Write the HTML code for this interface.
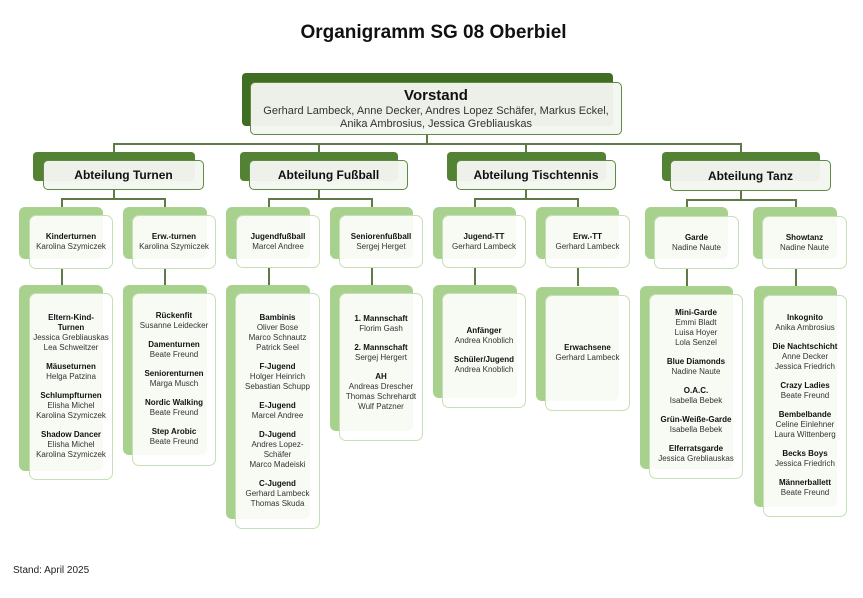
<!DOCTYPE html>
<html><head><meta charset="utf-8"><style>
*{margin:0;padding:0;box-sizing:border-box}
body{width:863px;height:598px;background:#fff;position:relative;overflow:hidden;font-family:"Liberation Sans",sans-serif;color:#222}
.a{position:absolute}
.bd{background:#3f6d22;border-radius:4px}
.bm{background:#548235;border-radius:4px}
.bl{background:#a9d18e;border-radius:6px}
.fd{background:rgba(244,246,241,0.96);border:1.5px solid #5f8a42;border-radius:5px;display:flex;flex-direction:column;justify-content:center;align-items:center;text-align:center}
.fl{background:rgba(255,255,255,0.9);border:1.5px solid #c5e0b4;border-radius:7px;display:flex;flex-direction:column;justify-content:center;align-items:center;text-align:center;font-size:8px;line-height:10px;white-space:nowrap;color:#333}
.fl b{color:#111}
.it{margin:4px 0 5px}
.h{background:#5f7a48;height:1.5px}
.v{background:#5f7a48;width:1.5px}
</style></head><body>
<div class="a" style="left:0;top:22px;width:863px;text-align:center;font-weight:bold;font-size:19px;color:#111;padding-left:4px">Organigramm SG 08 Oberbiel</div>

<!-- connectors -->
<div class="a v" style="left:426px;top:135px;height:9px"></div>
<div class="a h" style="left:113px;top:143px;width:629px"></div>
<div class="a v" style="left:113px;top:143px;height:9px"></div>
<div class="a v" style="left:318px;top:143px;height:9px"></div>
<div class="a v" style="left:525px;top:143px;height:9px"></div>
<div class="a v" style="left:740px;top:143px;height:9px"></div>

<div class="a v" style="left:113px;top:189px;height:10px"></div>
<div class="a h" style="left:61px;top:198px;width:104px"></div>
<div class="a v" style="left:61px;top:198px;height:10px"></div>
<div class="a v" style="left:164px;top:198px;height:10px"></div>
<div class="a v" style="left:318px;top:189px;height:10px"></div>
<div class="a h" style="left:268px;top:198px;width:104px"></div>
<div class="a v" style="left:268px;top:198px;height:10px"></div>
<div class="a v" style="left:371px;top:198px;height:10px"></div>
<div class="a v" style="left:525px;top:189px;height:10px"></div>
<div class="a h" style="left:474px;top:198px;width:104px"></div>
<div class="a v" style="left:474px;top:198px;height:10px"></div>
<div class="a v" style="left:577px;top:198px;height:10px"></div>
<div class="a v" style="left:740px;top:191px;height:9px"></div>
<div class="a h" style="left:686px;top:199px;width:110px"></div>
<div class="a v" style="left:686px;top:199px;height:9px"></div>
<div class="a v" style="left:795px;top:199px;height:9px"></div>

<div class="a v" style="left:61px;top:268px;height:18px"></div>
<div class="a v" style="left:164px;top:268px;height:18px"></div>
<div class="a v" style="left:268px;top:268px;height:18px"></div>
<div class="a v" style="left:371px;top:268px;height:18px"></div>
<div class="a v" style="left:474px;top:268px;height:18px"></div>
<div class="a v" style="left:577px;top:268px;height:18px"></div>
<div class="a v" style="left:686px;top:268px;height:18px"></div>
<div class="a v" style="left:795px;top:268px;height:18px"></div>

<!-- Vorstand -->
<div class="a bd" style="left:242px;top:73px;width:371px;height:53px"></div>
<div class="a fd" style="left:250px;top:82px;width:372px;height:53px">
<div style="font-weight:bold;font-size:15px;color:#111;line-height:18px">Vorstand</div>
<div style="font-size:11px;line-height:13px;color:#333">Gerhard Lambeck, Anne Decker, Andres Lopez Schäfer, Markus Eckel,<br>Anika Ambrosius, Jessica Grebliauskas</div></div>

<!-- Abteilungen -->
<div class="a bm" style="left:33px;top:152px;width:162px;height:29px"></div>
<div class="a fd" style="left:43px;top:160px;width:161px;height:30px;font-weight:bold;font-size:12px;color:#111">Abteilung Turnen</div>
<div class="a bm" style="left:240px;top:152px;width:158px;height:29px"></div>
<div class="a fd" style="left:249px;top:160px;width:159px;height:30px;font-weight:bold;font-size:12px;color:#111">Abteilung Fußball</div>
<div class="a bm" style="left:447px;top:152px;width:159px;height:29px"></div>
<div class="a fd" style="left:456px;top:160px;width:160px;height:30px;font-weight:bold;font-size:12px;color:#111">Abteilung Tischtennis</div>
<div class="a bm" style="left:662px;top:152px;width:158px;height:29px"></div>
<div class="a fd" style="left:670px;top:160px;width:161px;height:31px;font-weight:bold;font-size:12px;color:#111">Abteilung Tanz</div>

<!-- level 2 -->
<div class="a bl" style="left:19px;top:207px;width:84px;height:52px"></div>
<div class="a fl" style="left:29px;top:215px;width:84px;height:54px"><b>Kinderturnen</b>Karolina Szymiczek</div>
<div class="a bl" style="left:123px;top:207px;width:84px;height:52px"></div>
<div class="a fl" style="left:132px;top:215px;width:84px;height:54px"><b>Erw.-turnen</b>Karolina Szymiczek</div>
<div class="a bl" style="left:226px;top:207px;width:84px;height:52px"></div>
<div class="a fl" style="left:236px;top:215px;width:84px;height:53px"><b>Jugendfußball</b>Marcel Andree</div>
<div class="a bl" style="left:330px;top:207px;width:83px;height:52px"></div>
<div class="a fl" style="left:339px;top:215px;width:84px;height:53px"><b>Seniorenfußball</b>Sergej Herget</div>
<div class="a bl" style="left:433px;top:207px;width:83px;height:52px"></div>
<div class="a fl" style="left:442px;top:215px;width:84px;height:53px"><b>Jugend-TT</b>Gerhard Lambeck</div>
<div class="a bl" style="left:536px;top:207px;width:83px;height:52px"></div>
<div class="a fl" style="left:545px;top:215px;width:85px;height:53px"><b>Erw.-TT</b>Gerhard Lambeck</div>
<div class="a bl" style="left:645px;top:207px;width:83px;height:52px"></div>
<div class="a fl" style="left:654px;top:216px;width:85px;height:53px"><b>Garde</b>Nadine Naute</div>
<div class="a bl" style="left:753px;top:207px;width:84px;height:52px"></div>
<div class="a fl" style="left:762px;top:216px;width:85px;height:53px"><b>Showtanz</b>Nadine Naute</div>

<!-- level 3 -->
<div class="a bl" style="left:19px;top:285px;width:84px;height:186px"></div>
<div class="a fl" style="left:29px;top:293px;width:84px;height:187px">
<div class="it"><b>Eltern-Kind-<br>Turnen</b><br>Jessica Grebliauskas<br>Lea Schweitzer</div>
<div class="it"><b>Mäuseturnen</b><br>Helga Patzina</div>
<div class="it"><b>Schlumpfturnen</b><br>Elisha Michel<br>Karolina Szymiczek</div>
<div class="it"><b>Shadow Dancer</b><br>Elisha Michel<br>Karolina Szymiczek</div></div>

<div class="a bl" style="left:123px;top:285px;width:84px;height:170px"></div>
<div class="a fl" style="left:132px;top:293px;width:84px;height:173px">
<div class="it"><b>Rückenfit</b><br>Susanne Leidecker</div>
<div class="it"><b>Damenturnen</b><br>Beate Freund</div>
<div class="it"><b>Seniorenturnen</b><br>Marga Musch</div>
<div class="it"><b>Nordic Walking</b><br>Beate Freund</div>
<div class="it"><b>Step Arobic</b><br>Beate Freund</div></div>

<div class="a bl" style="left:226px;top:285px;width:84px;height:234px"></div>
<div class="a fl" style="left:235px;top:293px;width:85px;height:236px">
<div class="it"><b>Bambinis</b><br>Oliver Bose<br>Marco Schnautz<br>Patrick Seel</div>
<div class="it"><b>F-Jugend</b><br>Holger Heinrich<br>Sebastian Schupp</div>
<div class="it"><b>E-Jugend</b><br>Marcel Andree</div>
<div class="it"><b>D-Jugend</b><br>Andres Lopez-<br>Schäfer<br>Marco Madeiski</div>
<div class="it"><b>C-Jugend</b><br>Gerhard Lambeck<br>Thomas Skuda</div></div>

<div class="a bl" style="left:330px;top:285px;width:83px;height:146px"></div>
<div class="a fl" style="left:339px;top:293px;width:84px;height:148px;padding-bottom:8px">
<div class="it"><b>1. Mannschaft</b><br>Florim Gash</div>
<div class="it"><b>2. Mannschaft</b><br>Sergej Hergert</div>
<div class="it"><b>AH</b><br>Andreas Drescher<br>Thomas Schrehardt<br>Wulf Patzner</div></div>

<div class="a bl" style="left:433px;top:285px;width:84px;height:113px"></div>
<div class="a fl" style="left:442px;top:293px;width:84px;height:115px">
<div class="it"><b>Anfänger</b><br>Andrea Knoblich</div>
<div class="it"><b>Schüler/Jugend</b><br>Andrea Knoblich</div></div>

<div class="a bl" style="left:536px;top:287px;width:83px;height:114px"></div>
<div class="a fl" style="left:545px;top:295px;width:85px;height:116px">
<div class="it"><b>Erwachsene</b><br>Gerhard Lambeck</div></div>

<div class="a bl" style="left:640px;top:286px;width:93px;height:183px"></div>
<div class="a fl" style="left:649px;top:294px;width:94px;height:185px">
<div class="it"><b>Mini-Garde</b><br>Emmi Bladt<br>Luisa Hoyer<br>Lola Senzel</div>
<div class="it"><b>Blue Diamonds</b><br>Nadine Naute</div>
<div class="it"><b>O.A.C.</b><br>Isabella Bebek</div>
<div class="it"><b>Grün-Weiße-Garde</b><br>Isabella Bebek</div>
<div class="it"><b>Elferratsgarde</b><br>Jessica Grebliauskas</div></div>

<div class="a bl" style="left:754px;top:286px;width:83px;height:221px"></div>
<div class="a fl" style="left:763px;top:295px;width:84px;height:222px">
<div class="it"><b>Inkognito</b><br>Anika Ambrosius</div>
<div class="it"><b>Die Nachtschicht</b><br>Anne Decker<br>Jessica Friedrich</div>
<div class="it"><b>Crazy Ladies</b><br>Beate Freund</div>
<div class="it"><b>Bembelbande</b><br>Celine Einlehner<br>Laura Wittenberg</div>
<div class="it"><b>Becks Boys</b><br>Jessica Friedrich</div>
<div class="it"><b>Männerballett</b><br>Beate Freund</div></div>

<div class="a" style="left:13px;top:565px;font-size:10px;color:#222">Stand: April 2025</div>
</body></html>
